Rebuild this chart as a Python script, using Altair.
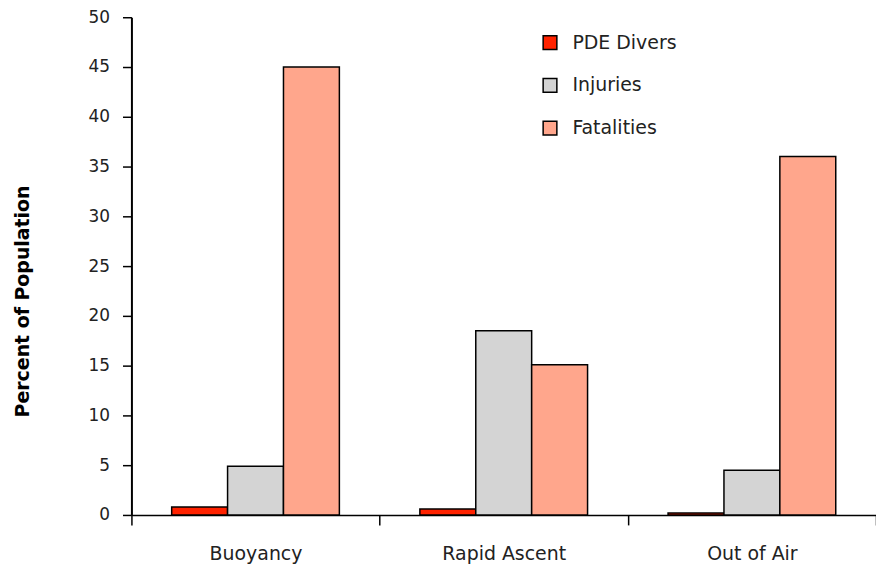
import altair as alt
import pandas as pd

categories = ["Buoyancy", "Rapid Ascent", "Out of Air"]
series = ["PDE Divers", "Injuries", "Fatalities"]
pde = [0.8, 0.6, 0.2]
injuries = [4.9, 18.5, 4.5]
fatalities = [45.0, 15.1, 36.0]
colors = ["#ff2200", "#d4d4d4", "#ffa68c"]

rows = []
for i, c in enumerate(categories):
    for s, vals in zip(series, [pde, injuries, fatalities]):
        rows.append({"Category": c, "Series": s, "Value": vals[i]})
df = pd.DataFrame(rows)

FONT = "DejaVu Sans"

chart = alt.Chart(df).mark_bar(stroke="black", strokeWidth=1.5).encode(
    x=alt.X("Category:N", sort=categories,
            scale=alt.Scale(paddingInner=0, paddingOuter=0),
            axis=alt.Axis(title=None, labelAngle=0, tickBand="extent",
                          labelFont=FONT, labelFontSize=19,
                          labelColor="#222", labelPadding=20, tickSize=10,
                          tickColor="black", domainColor="black", domainWidth=1.5,
                          tickWidth=1.5)),
    xOffset=alt.XOffset("Series:N", sort=series,
                        scale=alt.Scale(paddingInner=0, paddingOuter=0.72)),
    y=alt.Y("Value:Q", scale=alt.Scale(domain=[0, 50], nice=False),
            axis=alt.Axis(title="Percent of Population", values=list(range(0, 55, 5)),
                          grid=False, titleFont=FONT, titleFontSize=19,
                          titleFontWeight="bold", titleColor="black", titlePadding=56,
                          titleY=285,
                          labelFont=FONT, labelFontSize=17, labelColor="#222",
                          tickSize=9, tickColor="black", domainColor="black",
                          domainWidth=2, tickWidth=1.5, labelPadding=13)),
    color=alt.Color("Series:N", sort=series,
                    scale=alt.Scale(domain=series, range=colors),
                    legend=alt.Legend(title=None, orient="none", legendX=411, legendY=16,
                                      symbolType="square", symbolSize=190,
                                      symbolStrokeColor="black", symbolStrokeWidth=1.5,
                                      labelFont=FONT, labelFontSize=19,
                                      labelColor="#222", rowPadding=22, labelOffset=13)),
).properties(
    width=748, height=500,
    autosize=alt.AutoSizeParams(type="none"),
    padding={"left": 124, "top": 8, "right": 0, "bottom": 49},
).configure_view(stroke=None)

chart.save("out.html", embed_options={"renderer": "svg", "actions": False})
